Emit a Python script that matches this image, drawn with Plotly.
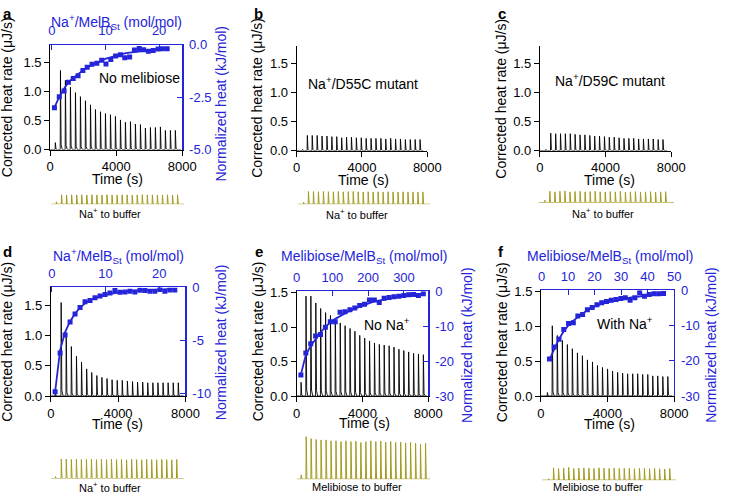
import plotly.graph_objects as go

W, H = 733, 503
FONT = "Liberation Sans, Arial, Helvetica, sans-serif"
BLUE = "#2424d8"
YEL = "#a39b22"

# ---------------- data ----------------
a_times = [300, 610, 910, 1215, 1520, 1820, 2125, 2430, 2730, 3035, 3335, 3640, 3940, 4245, 4545, 4850, 5150, 5455, 5755, 6060, 6360, 6665, 6965, 7270, 7570]
a_peaks = [0.12, 1.36, 1.19, 1.07, 0.98, 0.91, 0.84, 0.77, 0.69, 0.65, 0.62, 0.60, 0.57, 0.51, 0.47, 0.48, 0.44, 0.43, 0.37, 0.38, 0.38, 0.39, 0.33, 0.33, 0.33]
a_ratio = [0.5, 1.4, 2.3, 3.1, 4.0, 4.9, 5.8, 6.6, 7.5, 8.4, 9.3, 10.1, 11.0, 11.9, 12.8, 13.6, 14.5, 15.4, 16.3, 17.1, 18.0, 18.9, 19.8, 20.6, 21.5]
a_heat = [-3.0, -2.48, -2.2, -1.78, -1.61, -1.47, -1.22, -1.07, -0.93, -0.88, -0.73, -0.92, -0.70, -0.53, -0.47, -0.62, -0.58, -0.25, -0.17, -0.24, -0.31, -0.27, -0.20, -0.19, -0.19]
a_fit = [-2.98, -2.48, -2.08, -1.80, -1.58, -1.38, -1.22, -1.08, -0.96, -0.86, -0.76, -0.66, -0.59, -0.52, -0.46, -0.41, -0.37, -0.34, -0.30, -0.27, -0.25, -0.23, -0.21, -0.19, -0.17]

b_times = [350, 640, 940, 1240, 1540, 1840, 2140, 2440, 2740, 3040, 3340, 3640, 3940, 4240, 4540, 4840, 5140, 5440, 5740, 6040, 6340, 6640, 6940, 7240, 7540]
b_peaks = [0.02, 0.26, 0.26, 0.26, 0.25, 0.25, 0.24, 0.24, 0.22, 0.23, 0.23, 0.22, 0.22, 0.21, 0.21, 0.21, 0.21, 0.20, 0.21, 0.20, 0.20, 0.19, 0.19, 0.19, 0.19]

c_times = [360, 650, 950, 1245, 1540, 1840, 2135, 2435, 2730, 3030, 3325, 3620, 3920, 4215, 4515, 4810, 5110, 5405, 5700, 6000, 6295, 6595, 6890, 7190, 7485]
c_peaks = [0.02, 0.30, 0.29, 0.29, 0.29, 0.29, 0.28, 0.27, 0.27, 0.26, 0.25, 0.25, 0.24, 0.23, 0.23, 0.22, 0.21, 0.21, 0.21, 0.20, 0.20, 0.20, 0.20, 0.19, 0.19]

d_times = [250, 600, 900, 1205, 1510, 1810, 2115, 2415, 2720, 3020, 3325, 3625, 3930, 4230, 4535, 4840, 5140, 5445, 5745, 6050, 6350, 6655, 6955, 7260, 7560]
d_peaks = [0.05, 1.55, 1.05, 0.82, 0.66, 0.56, 0.45, 0.39, 0.34, 0.31, 0.29, 0.27, 0.26, 0.26, 0.25, 0.24, 0.23, 0.23, 0.22, 0.22, 0.22, 0.22, 0.22, 0.22, 0.22]
d_ratio = [0.6, 1.53, 2.46, 3.39, 4.32, 5.25, 6.18, 7.11, 8.04, 8.97, 9.9, 10.83, 11.76, 12.69, 13.62, 14.55, 15.48, 16.41, 17.34, 18.27, 19.2, 20.13, 21.06, 21.99, 22.92]
d_heat = [-9.8, -6.17, -4.47, -3.25, -2.5, -1.88, -1.34, -1.22, -0.97, -0.82, -0.67, -0.52, -0.30, -0.46, -0.43, -0.36, -0.43, -0.27, -0.30, -0.36, -0.36, -0.21, -0.36, -0.24, -0.24]
d_fit = [-9.8, -5.9, -4.2, -3.2, -2.45, -1.9, -1.5, -1.2, -1.0, -0.82, -0.7, -0.6, -0.52, -0.45, -0.39, -0.34, -0.30, -0.27, -0.24, -0.22, -0.20, -0.19, -0.18, -0.17, -0.16]

e_times = [255, 555, 850, 1150, 1445, 1745, 2040, 2335, 2635, 2930, 3230, 3525, 3820, 4120, 4415, 4715, 5010, 5305, 5605, 5900, 6200, 6495, 6790, 7090, 7385, 7685]
e_peaks = [0.20, 1.45, 1.45, 1.35, 1.27, 1.21, 1.17, 1.10, 1.06, 1.02, 0.98, 0.94, 0.88, 0.84, 0.80, 0.77, 0.75, 0.74, 0.73, 0.71, 0.68, 0.66, 0.64, 0.62, 0.61, 0.60]
e_ratio = [12, 25.7, 39.4, 53, 66.7, 80.4, 94.1, 107.8, 121.4, 135.1, 148.8, 162.5, 176.2, 189.8, 203.5, 217.2, 230.9, 244.6, 258.2, 271.9, 285.6, 299.3, 313, 326.6, 340.3, 354]
e_heat = [-24.0, -17.7, -15.0, -12.8, -12.4, -10.3, -8.7, -8.7, -6.0, -5.9, -5.3, -4.8, -4.1, -3.7, -2.5, -2.5, -3.2, -2.0, -1.8, -1.6, -1.4, -1.2, -1.0, -0.9, -1.2, -0.7]
e_fit = [-23.8, -18.2, -15.6, -13.7, -11.8, -10.3, -8.9, -7.9, -7.1, -6.3, -5.6, -5.0, -4.4, -3.9, -3.4, -2.9, -2.6, -2.3, -2.05, -1.8, -1.6, -1.4, -1.2, -1.0, -0.85, -0.7]

f_times = [370, 665, 965, 1270, 1570, 1870, 2175, 2475, 2775, 3080, 3380, 3680, 3985, 4285, 4590, 4890, 5190, 5495, 5795, 6095, 6400, 6700, 7000, 7305, 7605]
f_peaks = [0.05, 1.01, 0.87, 0.80, 0.74, 0.68, 0.62, 0.58, 0.52, 0.49, 0.44, 0.41, 0.39, 0.36, 0.34, 0.33, 0.32, 0.32, 0.32, 0.31, 0.31, 0.29, 0.29, 0.28, 0.28]
f_ratio = [3.0, 4.8, 6.6, 8.4, 10.2, 12.0, 13.7, 15.5, 17.3, 19.1, 20.9, 22.7, 24.5, 26.3, 28.1, 29.9, 31.6, 33.4, 35.2, 37.0, 38.8, 40.6, 42.4, 44.2, 46.0]
f_heat = [-19.5, -16.1, -13.9, -11.1, -9.4, -9.2, -7.3, -6.9, -5.5, -4.9, -4.1, -3.5, -3.2, -2.8, -2.6, -2.3, -2.1, -2.8, -2.1, -0.7, -1.7, -1.2, -1.0, -1.0, -0.9]
f_fit = [-19.7, -16.6, -13.8, -11.6, -9.9, -8.6, -7.6, -6.6, -5.6, -4.9, -4.3, -3.8, -3.4, -3.1, -2.8, -2.55, -2.3, -2.1, -1.9, -1.7, -1.55, -1.4, -1.25, -1.1, -1.0]

# reference (heat of dilution) traces, relative heights
ya_peaks = [0.25, 1.0, 0.95, 1.0, 0.97, 1.0, 0.96, 1.0, 0.98, 0.95, 1.0, 0.97, 0.96, 1.0, 0.98, 0.95, 0.97, 1.0, 0.96, 0.98, 0.95, 0.97, 1.0, 0.96, 0.98]
yb_peaks = [0.15, 1.0, 1.0, 0.97, 1.0, 0.98, 0.97, 1.0, 0.96, 0.98, 1.0, 0.97, 0.95, 0.98, 0.96, 0.97, 0.95, 0.98, 0.96, 0.95, 0.97, 0.95, 0.96, 0.95, 0.96]
yc_peaks = [0.2, 0.95, 0.9, 0.95, 1.0, 0.9, 0.93, 0.95, 0.9, 0.92, 0.95, 0.9, 0.88, 0.92, 0.9, 0.93, 0.88, 0.9, 0.92, 0.88, 0.9, 0.92, 0.88, 0.9, 0.92]
yd_peaks = [0.1, 1.0, 0.98, 0.97, 0.98, 0.96, 0.97, 0.98, 0.96, 0.97, 0.96, 0.98, 0.96, 0.97, 0.95, 0.97, 0.96, 0.95, 0.97, 0.96, 0.95, 0.97, 0.96, 0.95, 0.97]
ye_peaks = [0.1, 1.0, 0.95, 0.93, 0.92, 0.92, 0.9, 0.9, 0.88, 0.9, 0.88, 0.89, 0.86, 0.88, 0.9, 0.88, 0.89, 0.87, 0.88, 0.86, 0.87, 0.85, 0.86, 0.84, 0.82, 0.84]
yf_peaks = [0.1, 0.95, 0.9, 0.95, 1.0, 0.9, 0.93, 0.95, 0.92, 0.9, 0.95, 0.92, 0.9, 0.93, 0.9, 0.92, 0.9, 0.88, 0.92, 0.9, 0.88, 0.9, 0.88, 0.86, 0.9]

# ---------------- helpers ----------------
def px(x):
    return x / W

def py(y):
    return 1 - y / H

layout = dict(
    width=W, height=H, margin=dict(l=0, r=0, t=0, b=0),
    plot_bgcolor="white", paper_bgcolor="white", showlegend=False,
    font=dict(family=FONT, size=13, color="black"),
)
traces = []
annotations = []
count = [0]


def new_id():
    count[0] += 1
    return count[0]


def aname(k, n):
    return f"{k}axis" if n == 1 else f"{k}axis{n}"


def aref(k, n):
    return k if n == 1 else f"{k}{n}"


def spike_xy(times, heights, t_end):
    xs, ys = [0], [0]
    for t, h in zip(times, heights):
        xs += [t, t + 15, t + 55, t + 130]
        ys += [0, h, 0.06 * h, 0]
    xs.append(t_end)
    ys.append(0)
    return xs, ys


def text(x, y, s, size=13, color="black", angle=0, bold=False):
    if bold:
        s = f"<b>{s}</b>"
    if angle == 0:
        y -= 2
    else:
        x -= 2
    annotations.append(dict(x=px(x), y=py(y), xref="paper", yref="paper", text=s,
                            showarrow=False, xanchor="center", yanchor="middle",
                            textangle=angle, font=dict(size=size, color=color, family=FONT)))


def main_panel(box, yrange, times, peaks, t_end):
    x0, x1, ytop, ybot = box
    n = new_id()
    layout[aname("x", n)] = dict(
        domain=[px(x0), px(x1)], range=[0, 8000], anchor=aref("y", n),
        showline=True, linecolor="black", linewidth=1, ticks="outside", ticklen=5,
        tickcolor="black", tickvals=[0, 4000, 8000], showgrid=False, zeroline=False,
        tickfont=dict(size=13), ticklabelstandoff=0)
    vals = [0, 0.5, 1.0, 1.5]
    layout[aname("y", n)] = dict(
        domain=[py(ybot), py(ytop)], range=yrange, anchor=aref("x", n),
        showline=True, linecolor="black", linewidth=1, ticks="outside", ticklen=5,
        tickcolor="black", tickvals=vals, ticktext=["0.0", "0.5", "1.0", "1.5"],
        showgrid=False, zeroline=False, tickfont=dict(size=13))
    xs, ys = spike_xy(times, peaks, t_end)
    traces.append(go.Scatter(x=xs, y=ys, mode="lines", line=dict(color="black", width=0.9),
                             xaxis=aref("x", n), yaxis=aref("y", n), hoverinfo="skip"))
    return n


def blue_overlay(n, xr, xtv, yr, ytv, ytt, ratio, heat, fit):
    m = new_id()
    layout[aname("x", m)] = dict(
        overlaying=aref("x", n), side="top", anchor=aref("y", n), range=xr,
        showline=True, linecolor=BLUE, linewidth=1.3, ticks="inside", ticklen=5,
        tickcolor=BLUE, tickvals=xtv, showgrid=False, zeroline=False,
        tickfont=dict(size=13, color=BLUE), ticklabelstandoff=3)
    layout[aname("y", m)] = dict(
        overlaying=aref("y", n), side="right", anchor=aref("x", n), range=yr,
        showline=True, linecolor=BLUE, linewidth=1.3, ticks="inside", ticklen=5,
        tickcolor=BLUE, tickvals=ytv, ticktext=ytt, showgrid=False, zeroline=False,
        tickfont=dict(size=13, color=BLUE), ticklabelstandoff=3)
    traces.append(go.Scatter(x=ratio, y=fit, mode="lines", line=dict(color=BLUE, width=1.8),
                             xaxis=aref("x", m), yaxis=aref("y", m), hoverinfo="skip"))
    traces.append(go.Scatter(x=ratio, y=heat, mode="markers",
                             marker=dict(symbol="square", size=5, color=BLUE),
                             xaxis=aref("x", m), yaxis=aref("y", m), hoverinfo="skip"))


def ref_trace(xl, xr, ybase, ytop, times, peaks, t_end):
    n = new_id()
    layout[aname("x", n)] = dict(domain=[px(xl), px(xr)], range=[0, 8000], visible=False,
                                 anchor=aref("y", n))
    layout[aname("y", n)] = dict(domain=[py(ybase), py(ytop)], range=[0, 1], visible=False,
                                 anchor=aref("x", n))
    xs, ys = [0], [0]
    for t, h in zip(times, peaks):
        xs += [t, t + 15, t + 60]
        ys += [0, h, 0]
    xs.append(t_end)
    ys.append(0)
    traces.append(go.Scatter(x=xs, y=ys, mode="lines", line=dict(color=YEL, width=1),
                             xaxis=aref("x", n), yaxis=aref("y", n), hoverinfo="skip",
                             cliponaxis=False))


ST = "Na<sup>+</sup>/MelB<sub>St</sub> (mol/mol)"
MT = "Melibiose/MelB<sub>St</sub> (mol/mol)"
LT = "Corrected heat rate (μJ/s)"
RT = "Normalized heat (kJ/mol)"

# ---------------- panel a ----------------
na = main_panel((47.3, 182.7, 39, 147), [0, 1.8], a_times, a_peaks, 7900)
blue_overlay(na, [-0.3, 24.3], [0, 10, 20], [-5, 0], [-5, -2.5, 0], ["-5.0", "-2.5", "0.0"],
             a_ratio, a_heat, a_fit)
text(4, 9, "a", 15, bold=True)
text(5, 93, LT, 14, angle=-90)
text(224, 100, RT, 14, BLUE, angle=-90)
text(115, 17, ST, 14, BLUE)
text(116, 179, "Time (s)", 14)
text(139, 75, "No melibiose", 14)
ref_trace(48.3, 185, 203.3, 193.3, a_times, ya_peaks, 8000)
text(109, 214, "Na<sup>+</sup> to buffer", 11)

# ---------------- panel b ----------------
nb = main_panel((300, 434, 40, 148), [0, 1.8], b_times, b_peaks, 7750)
text(261, 9, "b", 15, bold=True)
text(262, 94, LT, 14, angle=-90)
text(369, 180, "Time (s)", 14)
text(368, 80, "Na<sup>+</sup>/D55C mutant", 14)
ref_trace(301, 437, 203.3, 190, b_times, yb_peaks, 8000)
text(362, 215, "Na<sup>+</sup> to buffer", 11)

# ---------------- panel c ----------------
nc = main_panel((549.3, 684, 40, 148), [0, 1.8], c_times, c_peaks, 7750)
text(511, 9, "c", 15, bold=True)
text(512, 94, LT, 14, angle=-90)
text(621, 180, "Time (s)", 14)
text(621, 77, "Na<sup>+</sup>/D59C mutant", 14)
ref_trace(548, 687, 201.7, 189.3, c_times, yc_peaks, 8000)
text(614, 214, "Na<sup>+</sup> to buffer", 11)

# ---------------- panel d ----------------
nd = main_panel((48, 186, 289, 401), [0, 1.8], d_times, d_peaks, 7900)
blue_overlay(nd, [-0.2, 24.9], [0, 10, 20], [-10.2, 0], [-10, -5, 0], ["-10", "-5", "0"],
             d_ratio, d_heat, d_fit)
text(4, 254, "d", 15, bold=True)
text(5, 345, LT, 14, angle=-90)
text(224, 346, RT, 14, BLUE, angle=-90)
text(117, 259, ST, 14, BLUE)
text(116, 432, "Time (s)", 14)
ref_trace(48.3, 184.3, 486, 465.7, d_times, yd_peaks, 8000)
text(109, 497, "Na<sup>+</sup> to buffer", 11)

# ---------------- panel e ----------------
ne = main_panel((300, 435, 293, 401), [0, 1.52], e_times, e_peaks, 7900)
blue_overlay(ne, [0, 368], [0, 100, 200, 300], [-30, 0], [-30, -20, -10, 0],
             ["-30", "-20", "-10", "0"], e_ratio, e_heat, e_fit)
text(261, 254, "e", 15, bold=True)
text(262, 345, LT, 14, angle=-90)
text(476, 348, RT, 14, BLUE, angle=-90)
text(369, 260, MT, 14, BLUE)
text(370, 431, "Time (s)", 14)
text(393, 329, "No Na<sup>+</sup>", 14)
ref_trace(300, 437.3, 486.7, 442.7, e_times, ye_peaks, 8000)
text(362, 497, "Melibiose to buffer", 11)

# ---------------- panel f ----------------
nf = main_panel((550.5, 687, 292, 401), [0, 1.52], f_times, f_peaks, 7900)
blue_overlay(nf, [-0.2, 50], [0, 10, 20, 30, 40, 50], [-30, 0], [-30, -20, -10, 0],
             ["-30", "-20", "-10", "0"], f_ratio, f_heat, f_fit)
text(509, 254, "f", 15, bold=True)
text(512, 345, LT, 14, angle=-90)
text(726, 348, RT, 14, BLUE, angle=-90)
text(621, 260, MT, 14, BLUE)
text(621, 432, "Time (s)", 14)
text(637, 328, "With Na<sup>+</sup>", 14)
ref_trace(551.7, 689, 487.7, 474.3, f_times, yf_peaks, 8000)
text(609, 497, "Melibiose to buffer", 11)

layout["annotations"] = annotations
fig = go.Figure(data=traces, layout=layout)
fig.write_html("out.html", config={"displayModeBar": False, "staticPlot": True},
               post_script="document.body.style.margin='0';document.body.style.overflow='hidden';")
